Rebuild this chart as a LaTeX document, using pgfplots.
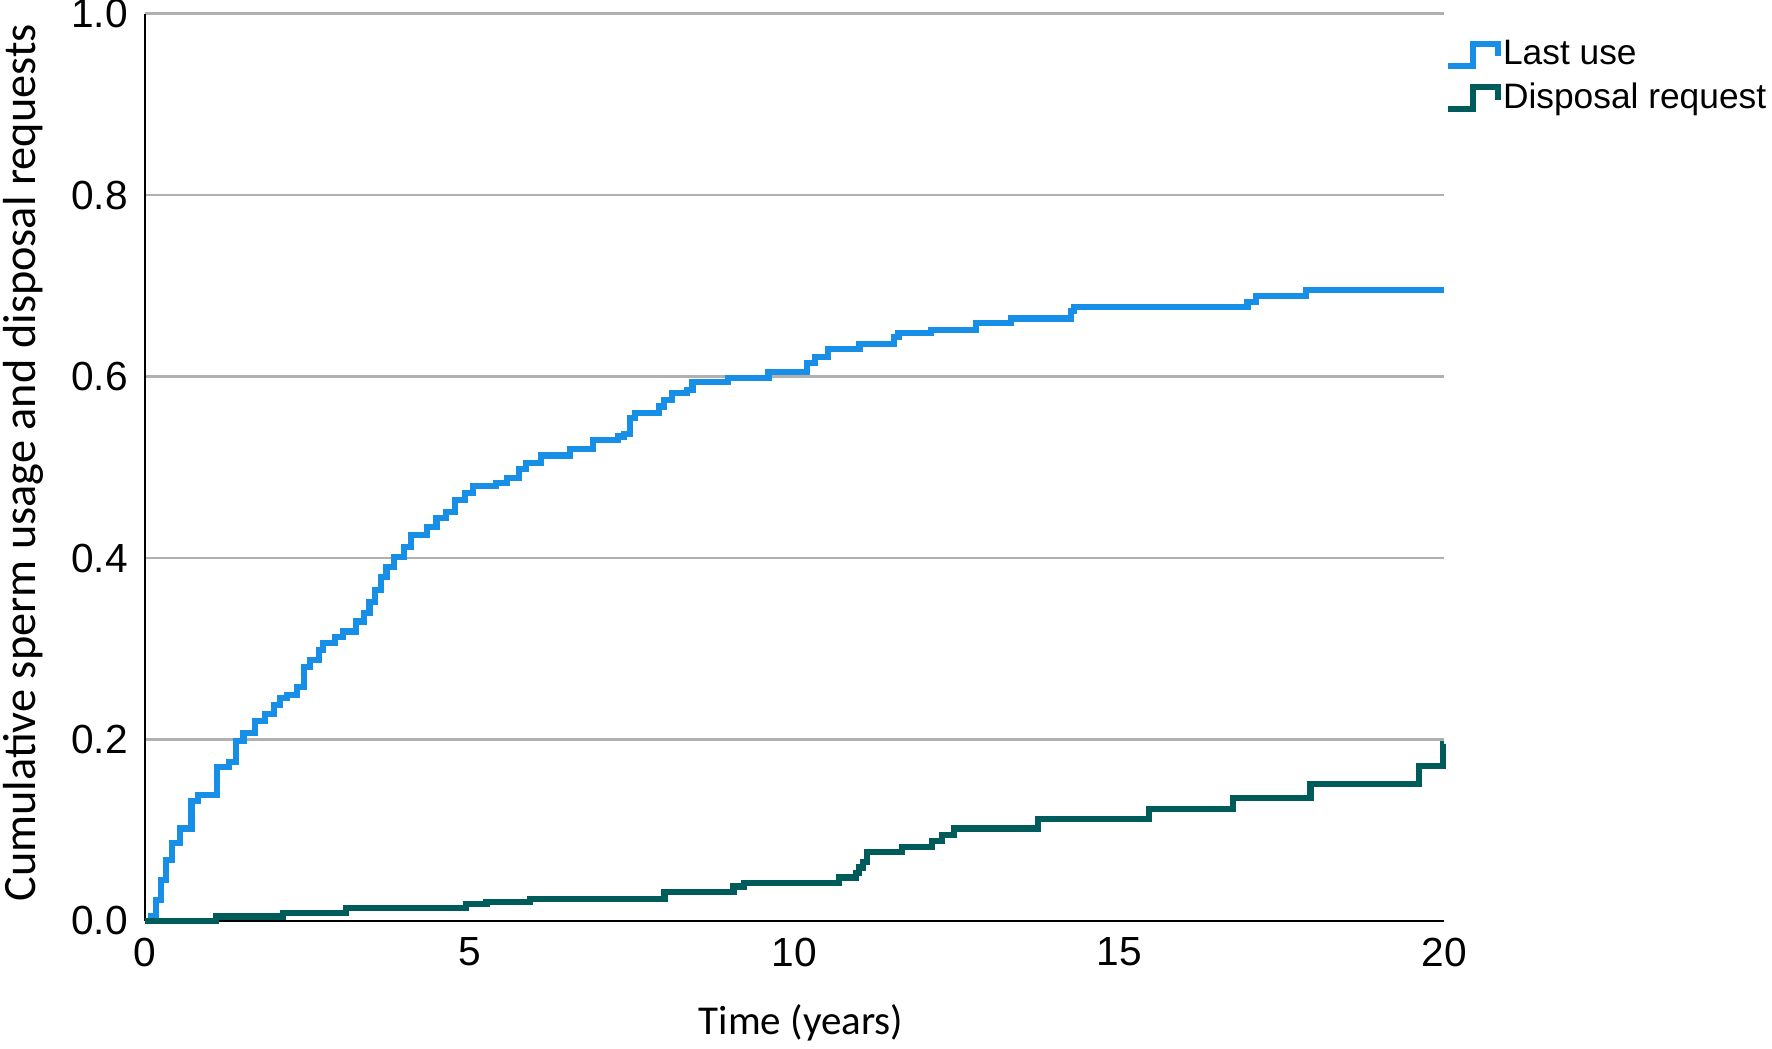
\documentclass[border=0pt]{standalone}
\usepackage{fontspec}
\setmainfont{Liberation Sans}
\newfontfamily\labelfont{Carlito}
\usepackage{pgfplots}
\pgfplotsset{compat=1.18}

\definecolor{lastuse}{RGB}{24,143,230}
\definecolor{disposal}{RGB}{0,92,91}
\definecolor{gridgray}{RGB}{176,176,176}

\begin{document}
\begin{tikzpicture}
\begin{axis}[
    at={(0,0)}, anchor=south west,
    scale only axis,
    width=389.9pt, height=272.2pt,
    xmin=0, xmax=20, ymin=0, ymax=1,
    xtick={0,5,10,15,20},
    ytick={0,0.2,0.4,0.6,0.8,1.0},
    axis x line=bottom, axis y line=left,
    axis line style={-, black, line width=0.7pt},
    major tick length=0pt,
    ymajorgrids=true,
    grid style={gridgray, line width=0.7pt},
    /pgf/number format/assume math mode=true,
    ticklabel style={font=\fontsize{12.2}{14}\selectfont},
    xticklabel style={yshift=-1.5pt},
    yticklabel style={xshift=-1.5pt, /pgf/number format/fixed,
        /pgf/number format/fixed zerofill, /pgf/number format/precision=1},
    xlabel={Time (years)},
    ylabel={Cumulative sperm usage and disposal requests},
    xlabel style={font=\labelfont\fontsize{12.3}{14}\selectfont,
        at={(axis description cs:0.505,-0.112)}, anchor=center},
    ylabel style={font=\labelfont\fontsize{13.9}{16}\selectfont,
        at={(axis description cs:-0.093,0.505)}, anchor=center},
    clip=false,
    legend style={at={(rel axis cs:1,1)}, anchor=north west, draw=none, fill=none,
        font=\fontsize{10.6}{12.9}\selectfont, inner sep=0pt, yshift=-5.7pt,
        row sep=0pt, column sep=-1.4pt, cells={anchor=west}},
    legend image code/.code={
        \draw[#1, line width=1.8pt] (0pt,-3.3pt) -- (7.5pt,-3.3pt) -- (7.5pt,3.3pt)
            -- (15pt,3.3pt) -- (15pt,-0.5pt);},
]
\addplot[const plot, color=lastuse, line width=1.85pt] coordinates {
(0,0) (0.10,0.005) (0.18,0.023) (0.25,0.045) (0.33,0.067) (0.42,0.086)
(0.54,0.102) (0.72,0.132) (0.82,0.139) (1.11,0.170) (1.30,0.175) (1.41,0.198)
(1.52,0.207) (1.70,0.220) (1.85,0.228) (1.99,0.238) (2.08,0.246) (2.19,0.249)
(2.34,0.258) (2.45,0.280) (2.54,0.288) (2.68,0.299) (2.75,0.306) (2.93,0.313)
(3.05,0.319) (3.25,0.330) (3.37,0.339) (3.46,0.352) (3.54,0.365) (3.63,0.379)
(3.72,0.390) (3.84,0.401) (3.99,0.412) (4.10,0.425) (4.35,0.434) (4.49,0.444)
(4.64,0.451) (4.78,0.464) (4.93,0.472) (5.05,0.479) (5.41,0.483) (5.57,0.488)
(5.76,0.498) (5.87,0.505) (6.10,0.513) (6.55,0.520) (6.90,0.530) (7.28,0.534)
(7.38,0.537) (7.47,0.554) (7.54,0.560) (7.91,0.567) (7.99,0.574) (8.11,0.582)
(8.35,0.585) (8.43,0.594) (8.97,0.598) (9.60,0.605) (10.19,0.615) (10.31,0.622)
(10.52,0.630) (11.00,0.636) (11.53,0.644) (11.60,0.648) (12.10,0.651) (12.79,0.659)
(13.33,0.664) (14.25,0.672) (14.30,0.677) (16.97,0.682) (17.10,0.689) (17.87,0.695)
(20.00,0.695)
};
\addlegendentry{Last use}
\addplot[const plot, color=disposal, line width=1.85pt] coordinates {
(0,0) (1.10,0.005) (2.13,0.009) (3.10,0.014) (4.95,0.019) (5.26,0.021)
(5.93,0.024) (8.00,0.032) (9.06,0.038) (9.22,0.042) (10.69,0.048) (10.94,0.053)
(10.99,0.059) (11.05,0.065) (11.11,0.076) (11.65,0.082) (12.11,0.088) (12.27,0.095)
(12.45,0.102) (13.75,0.112) (15.45,0.123) (16.75,0.136) (17.94,0.151) (19.61,0.171)
(19.98,0.195) (20.00,0.195)
};
\addlegendentry{Disposal request}
\end{axis}
\pgfresetboundingbox
\path[use as bounding box] (-43.41pt,-38.4pt) rectangle (488.19pt,276.3pt);
\end{tikzpicture}
\end{document}
